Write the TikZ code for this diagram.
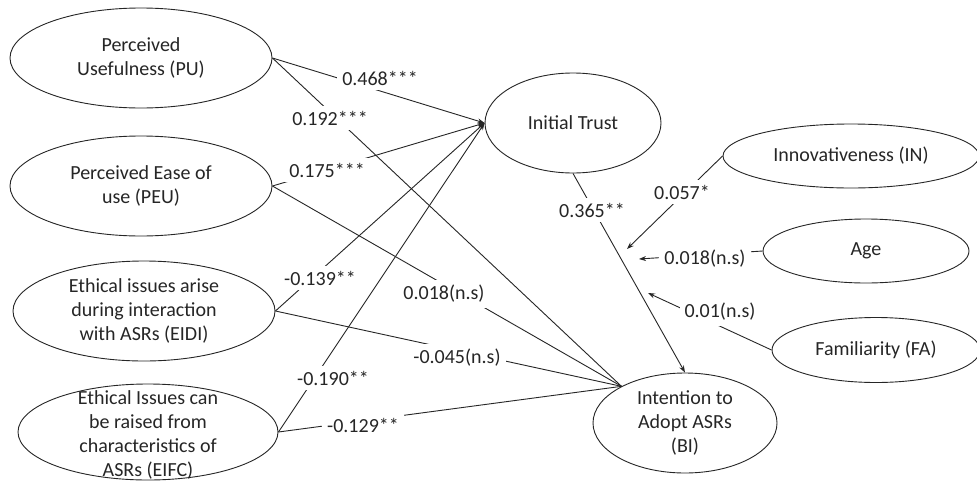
\documentclass[tikz,border=0pt]{standalone}
\usepackage{fontspec}
\setmainfont{Carlito}
\usetikzlibrary{shapes.geometric, arrows.meta}
\begin{document}
\begin{tikzpicture}[x=1pt,y=-1pt,
  construct/.style={draw=black!85, line width=0.9pt, ellipse, inner sep=0pt, align=center,
    font=\fontsize{20}{24}\selectfont, text=black!85},
  txt/.style={align=center, inner sep=0pt, font=\fontsize{20}{24}\selectfont, text=black!85},
  conn/.style={draw=black!85, line width=0.9pt},
  arr/.style={conn, -{Stealth[length=7pt,width=5pt]}},
  coef/.style={fill=white, inner sep=5pt, font=\fontsize{20}{24}\selectfont, text=black!85}]
\useasboundingbox (0,0) rectangle (977,482);
\fill[white] (0,0) rectangle (977,482);

% constructs
\node[construct, minimum width=262, minimum height=100] (pu) at (141,58) {Perceived\\Usefulness (PU)};
\node[construct, minimum width=262, minimum height=100] (peu) at (141,186) {Perceived Ease of\\use (PEU)};
\node[construct, minimum width=262, minimum height=100] (eidi) at (144,311) {Ethical issues arise\\during interaction\\with ASRs (EIDI)};
\node[construct, minimum width=260, minimum height=96] (eifc) at (148,432) {};
\node[txt] (eifct) at (148,435) {Ethical Issues can\\be raised from\\characteristics of\\ASRs (EIFC)};
\node[construct, minimum width=176, minimum height=100] (it) at (573,123) {Initial Trust};
\node[construct, minimum width=184, minimum height=100] (bi) at (685,423) {Intention to\\Adopt ASRs\\(BI)};
\node[construct, minimum width=256, minimum height=64] (in) at (851,156) {Innovativeness (IN)};
\node[construct, minimum width=206, minimum height=64] (age) at (866,251) {Age};
\node[construct, minimum width=208, minimum height=65] (fa) at (876,350) {Familiarity (FA)};

% moderation targets
\coordinate (intip) at (627,249);
\coordinate (agetip) at (639,259);
\coordinate (fatip) at (648,293);

% paths to Initial Trust
\draw[arr] (pu.east) -- (it.west);
\draw[arr] (peu.east) -- (it.west);
\draw[arr] (eidi.east) -- (it.west);
\draw[arr] (eifc.east) -- (it.west);

% paths to Intention
\draw[conn] (pu.east) -- (bi.150);
\draw[conn] (peu.east) -- (bi.150);
\draw[conn] (eidi.east) -- (bi.150);
\draw[conn] (eifc.east) -- (bi.150);
\draw[arr] (it.south) -- (bi.north);

% moderators
\draw[arr] (in.west) -- (intip);
\draw[arr] (age.west) -- (agetip);
\draw[arr] (fa.west) -- (fatip);

% coefficients
\node[coef] (c1) at (380,78) {0.468***};
\node[coef] (c2) at (330,118) {0.192***};
\node[coef] (c3) at (327,170) {0.175***};
\node[coef] (c4) at (320,278) {-0.139**};
\node[coef] (c5) at (444,294) {0.018(n.s)};
\node[coef] (c6) at (457,358) {-0.045(n.s)};
\node[coef] (c7) at (333,378) {-0.190**};
\node[coef] (c8) at (363,425) {-0.129**};
\node[coef] (c9) at (592,210) {0.365**};
\node[coef] (c10) at (682,192) {0.057*};
\node[coef] (c11) at (705,259) {0.018(n.s)};
\node[coef] (c12) at (720,312) {0.01(n.s)};
\end{tikzpicture}
\end{document}
